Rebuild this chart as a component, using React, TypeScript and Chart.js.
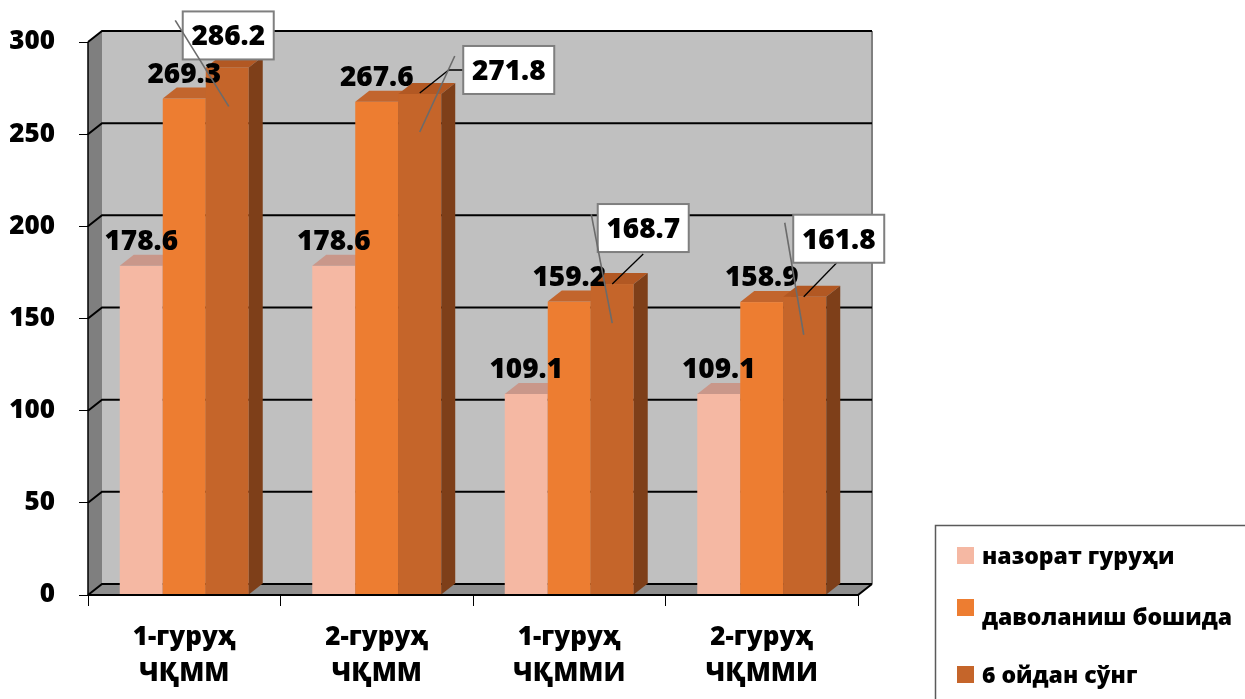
import React, { useEffect, useRef } from "react";
import { Chart, registerables } from "chart.js";

Chart.register(...registerables);

// ---------- data ----------
const categories: string[][] = [
  ["1-гуруҳ", "ЧҚММ"],
  ["2-гуруҳ", "ЧҚММ"],
  ["1-гуруҳ", "ЧҚММИ"],
  ["2-гуруҳ", "ЧҚММИ"],
];
const seriesNames = ["назорат гуруҳи", "даволаниш бошида", "6 ойдан сўнг"];
const controlGroup = [178.6, 178.6, 109.1, 109.1];
const treatmentStart = [269.3, 267.6, 159.2, 158.9];
const afterSixMonths = [286.2, 271.8, 168.7, 161.8];
const yMin = 0;
const yMax = 300;
const yStep = 50;

// ---------- styles ----------
const FRONT = ["#F5B8A3", "#ED7D31", "#C5652A"];
const TOP = ["#C9978A", "#C2652D", "#B25823"];
const SIDE = ["#B98A7C", "#A85424", "#7E3F19"];
const DX = 14;
const DY = -11;
const FONT = "'Open Sans', 'Noto Sans', sans-serif";
const W = "800";

// callout (boxed label) geometry for the last series, relative to bar top centre
const calloutBox = [
  [1, -32],
  [89, -24],
  [31, -56],
  [34, -58],
];
const calloutLeader: number[][][] = [
  [],
  [[0, -1], [29, -24], [43, -24]],
  [[31, -30], [0, 0]],
  [[32, -34], [-1, 0]],
];
const calloutGrayLine: number[][][] = [
  [[-52, -47], [1.5, 39]],
  [[35, -38], [0, 38]],
  [[-21, -70], [0, 39]],
  [[-20, -74], [-1, 38]],
];

function poly(ctx: CanvasRenderingContext2D, pts: number[][], fill: string) {
  ctx.beginPath();
  ctx.moveTo(pts[0][0], pts[0][1]);
  for (let i = 1; i < pts.length; i++) ctx.lineTo(pts[i][0], pts[i][1]);
  ctx.closePath();
  ctx.fillStyle = fill;
  ctx.fill();
}
function polyline(ctx: CanvasRenderingContext2D, pts: number[][], color: string, w: number) {
  ctx.beginPath();
  ctx.moveTo(pts[0][0], pts[0][1]);
  for (let i = 1; i < pts.length; i++) ctx.lineTo(pts[i][0], pts[i][1]);
  ctx.strokeStyle = color;
  ctx.lineWidth = w;
  ctx.stroke();
}

const threeDPlugin = {
  id: "threeD",
  beforeDatasetsDraw(chart: any) {
    const { ctx, chartArea } = chart;
    const { left: L, right: R, top: T, bottom: B } = chartArea;
    const y = chart.scales.y;
    ctx.save();
    ctx.fillStyle = "#C0C0C0";
    ctx.fillRect(L + DX, T + DY, R - L, B - T);
    poly(ctx, [[L, B], [L, T], [L + DX, T + DY], [L + DX, B + DY]], "#7F7F7F");
    poly(ctx, [[L, B], [R, B], [R + DX, B + DY], [L + DX, B + DY]], "#8E8E8E");
    polyline(ctx, [[R + DX, T + DY], [R + DX, B + DY]], "#808080", 2);
    y.ticks.forEach((t: any) => {
      const py = y.getPixelForValue(t.value);
      polyline(ctx, [[L, py], [L + DX, py + DY], [R + DX, py + DY]], "#000", 2);
    });
    polyline(ctx, [[L, T], [L, B]], "#000", 1.5);
    ctx.restore();
  },
  afterDatasetsDraw(chart: any) {
    const { ctx, chartArea } = chart;
    const { left: L, right: R, bottom: B } = chartArea;
    const n = chart.data.labels.length;
    const nd = chart.data.datasets.length;
    ctx.save();
    for (let i = 0; i < n; i++) {
      for (let d = 0; d < nd; d++) {
        const el = chart.getDatasetMeta(d).data[i];
        const x0 = el.x - el.width / 2;
        const x1 = el.x + el.width / 2;
        const yt = el.y;
        const yb = el.base;
        ctx.fillStyle = FRONT[d];
        ctx.fillRect(x0, yt, x1 - x0, yb - yt);
        poly(ctx, [[x0, yt], [x1, yt], [x1 + DX, yt + DY], [x0 + DX, yt + DY]], TOP[d]);
        poly(ctx, [[x1, yt], [x1 + DX, yt + DY], [x1 + DX, yb + DY], [x1, yb]], SIDE[d]);
      }
    }
    polyline(ctx, [[L, B], [R, B], [R + DX, B + DY]], "#000", 2);

    ctx.font = `${W} 28px ${FONT}`;
    ctx.textAlign = "center";
    ctx.textBaseline = "alphabetic";
    ctx.fillStyle = "#000";
    for (let d = 0; d < nd - 1; d++) {
      const meta = chart.getDatasetMeta(d);
      meta.data.forEach((el: any, i: number) => {
        const v = chart.data.datasets[d].data[i];
        ctx.fillText(v.toFixed(1), el.x, el.y - 16);
      });
    }
    const last = chart.getDatasetMeta(nd - 1);
    last.data.forEach((el: any, i: number) => {
      const v = chart.data.datasets[nd - 1].data[i];
      const bx = el.x + calloutBox[i][0];
      const by = el.y + calloutBox[i][1];
      const leader = calloutLeader[i];
      if (leader.length) {
        polyline(ctx, leader.map((p) => [el.x + p[0], el.y + p[1]]), "#000", 1.3);
      }
      const w = 91, h = 48;
      ctx.fillStyle = "#fff";
      ctx.fillRect(bx - w / 2, by - h / 2, w, h);
      ctx.strokeStyle = "#7F7F7F";
      ctx.lineWidth = 2;
      ctx.strokeRect(bx - w / 2, by - h / 2, w, h);
      ctx.fillStyle = "#000";
      ctx.fillText(v.toFixed(1), bx, by + 10);
    });
    last.data.forEach((el: any, i: number) => {
      const g = calloutGrayLine[i];
      polyline(ctx, g.map((p) => [el.x + p[0], el.y + p[1]]), "#6B6B6B", 1.6);
    });
    ctx.restore();
  },
  afterDraw(chart: any) {
    const { ctx } = chart;
    ctx.save();
    ctx.strokeStyle = "#5A5A5A";
    ctx.lineWidth = 1.5;
    ctx.strokeRect(935.5, 525.5, 400, 300);
    const sqY = [547, 599, 666];
    const txtY = [564, 625, 683];
    ctx.font = `${W} 23px ${FONT}`;
    ctx.textAlign = "left";
    ctx.textBaseline = "alphabetic";
    seriesNames.forEach((name, i) => {
      ctx.fillStyle = FRONT[i];
      ctx.fillRect(957, sqY[i], 17, 17);
      ctx.fillStyle = "#000";
      ctx.fillText(name, 982, txtY[i]);
    });
    ctx.restore();
  },
};

export default function App() {
  const ref = useRef<HTMLCanvasElement | null>(null);
  useEffect(() => {
    if (!ref.current) return;
    const transparent = "rgba(0,0,0,0)";
    const chart = new Chart(ref.current, {
      type: "bar",
      data: {
        labels: categories as any,
        datasets: [
          { label: seriesNames[0], data: controlGroup, backgroundColor: transparent },
          { label: seriesNames[1], data: treatmentStart, backgroundColor: transparent },
          { label: seriesNames[2], data: afterSixMonths, backgroundColor: transparent },
        ],
      },
      options: {
        responsive: false,
        animation: false,
        events: [],
        layout: { padding: { top: 42, right: 387, left: 0, bottom: 0 } },
        datasets: { bar: { categoryPercentage: 0.67, barPercentage: 1 } } as any,
        plugins: { legend: { display: false }, tooltip: { enabled: false } },
        scales: {
          x: {
            offset: true,
            grid: { offset: true, drawOnChartArea: false, drawTicks: true, tickLength: 11, color: "#000", lineWidth: 1 },
            border: { display: false },
            ticks: {
              color: "#000",
              padding: 13,
              maxRotation: 0,
              font: { family: FONT, size: 26, weight: W as any, lineHeight: 1.4 },
            },
            afterFit: (s: any) => {
              s.height = 104;
            },
          },
          y: {
            min: yMin,
            max: yMax,
            ticks: {
              stepSize: yStep,
              color: "#000",
              padding: 24,
              font: { family: FONT, size: 26, weight: W as any },
            },
            grid: { drawOnChartArea: false, drawTicks: true, tickLength: 9, color: "#000", lineWidth: 1 },
            border: { display: false },
            afterFit: (s: any) => {
              s.width = 88;
            },
          },
        },
      },
      plugins: [threeDPlugin],
    });
    return () => chart.destroy();
  }, []);
  return (
    <div style={{ position: "absolute", left: 0, top: 0, width: 1245, height: 699, background: "#fff" }}>
      <canvas ref={ref} width={1245} height={699} style={{ width: 1245, height: 699, display: "block" }} />
    </div>
  );
}
